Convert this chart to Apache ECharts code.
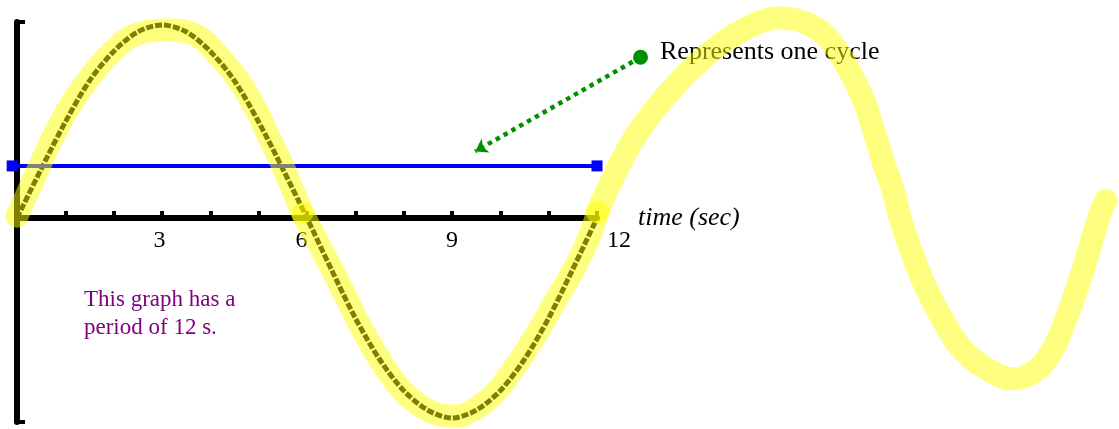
<!DOCTYPE html>
<html>
<head>
<meta charset="utf-8">
<script src="https://cdn.jsdelivr.net/npm/echarts@6/dist/echarts.min.js"></script>
<style>
  html, body { margin: 0; padding: 0; background: #fff; }
  #chart { width: 1119px; height: 429px; }
</style>
</head>
<body>
<div id="chart"></div>
<script>
// labelled ticks on the time axis (a tick every second)
const timeLabels = [3, 6, 9, 12]

const curveTime = [0, 0.5, 1, 1.5, 2, 2.5, 3, 3.5, 4, 4.5, 5, 5.5, 6, 6.5, 7, 7.5, 8, 8.5, 9, 9.5, 10, 10.5, 11, 11.5, 12]
const curveValue = [0, 0.25, 0.49, 0.7, 0.85, 0.95, 0.985, 0.95, 0.85, 0.7, 0.49, 0.25, 0, -0.26, -0.51, -0.72, -0.88, -0.98, -1.02, -0.98, -0.88, -0.72, -0.51, -0.26, 0]

// hand drawn highlighter, three strokes
const markerTime1 = [0, 0.33, 0.68, 1.04, 1.45, 1.93, 2.4, 3.11, 3.73, 4.2, 4.62, 4.97, 5.24, 5.51, 5.71, 5.9]
const markerValue1 = [0.01, 0.19, 0.38, 0.55, 0.7, 0.84, 0.93, 0.96, 0.93, 0.82, 0.69, 0.54, 0.4, 0.26, 0.14, 0.03]
const markerTime2 = [5.92, 6.3, 6.7, 7.1, 7.5, 7.9, 8.3, 8.7, 9.1, 9.5, 9.9, 10.3, 10.7, 11.1, 11.5, 11.8, 12.02]
const markerValue2 = [0.02, -0.16, -0.35, -0.55, -0.72, -0.86, -0.95, -1, -1.01, -0.97, -0.89, -0.76, -0.61, -0.44, -0.27, -0.12, 0.03]
const markerTime3 = [12.01, 12.34, 12.75, 13.25, 13.79, 14.41, 15.03, 15.73, 16.27, 16.77, 17.18, 17.52, 17.72, 17.93, 18.14, 18.28, 18.49, 18.76, 19.11, 19.52, 20, 20.6, 21.12, 21.45, 21.74, 22.01, 22.22, 22.42, 22.53]
const markerValue3 = [0.03, 0.21, 0.4, 0.57, 0.72, 0.86, 0.96, 1.02, 1, 0.92, 0.77, 0.6, 0.45, 0.28, 0.13, -0.01, -0.16, -0.33, -0.5, -0.66, -0.76, -0.82, -0.77, -0.66, -0.49, -0.3, -0.13, 0.03, 0.09]

// blue bar marking one cycle
const cycleTime = [-0.1, 12]
const cycleValue = [0.266, 0.266]

// note arrow: dot, then arrow tip
const noteTime = [12.9, 9.48]
const noteValue = [0.82, 0.34]
const noteText = 'Represents one cycle'
const periodText = 'This graph has a\nperiod of 12 s.'

const serif = '"Liberation Serif", "Times New Roman", serif'
const pairs = (xs, ys) => xs.map((x, i) => [x, ys[i]])

const highlight = (xs, ys) => ({
  type: 'line',
  xAxisIndex: 1,
  yAxisIndex: 1,
  data: pairs(xs, ys),
  smooth: 0.35,
  symbol: 'none',
  silent: true,
  clip: false,
  z: 10,
  lineStyle: { color: '#ffff00', opacity: 0.5, width: 23, cap: 'round', join: 'round' }
})

const labelText = { color: '#000', fontSize: 24, fontFamily: serif }

const chart = echarts.init(document.getElementById('chart'))
chart.setOption({
  animation: false,
  title: {
    text: periodText,
    left: 84,
    top: 286,
    padding: 0,
    textStyle: { color: '#800080', fontSize: 23, fontWeight: 'normal', fontFamily: serif, lineHeight: 28 }
  },
  // grid 0 carries the time axis (its bottom edge is the zero line),
  // grid 1 is the full plot: vertical axis and every series
  grid: [
    { left: 17, top: 22, width: 580, height: 196.08 },
    { left: 17, top: 22, width: 1102, height: 400 }
  ],
  xAxis: [
    {
      gridIndex: 0,
      type: 'value',
      position: 'bottom',
      min: 0,
      max: 12,
      interval: 1,
      name: 'time (sec)',
      nameLocation: 'end',
      nameGap: 41,
      nameTextStyle: { fontStyle: 'italic', fontSize: 26, fontFamily: serif, color: '#000', padding: [0, 0, 10, 0] },
      axisLine: { onZero: false, lineStyle: { color: '#000', width: 6 } },
      axisTick: { inside: true, length: 7, lineStyle: { color: '#000', width: 4 } },
      axisLabel: {
        show: true,
        margin: 11,
        ...labelText,
        formatter: v => {
          const n = Math.round(Number(v))
          return timeLabels.includes(n) ? '{t' + n + '|' + n + '}' : ''
        },
        rich: {
          t3: { ...labelText, padding: [0, 5, 0, 0] },
          t6: { ...labelText, padding: [0, 11, 0, 0] },
          t9: { ...labelText },
          t12: { ...labelText, padding: [0, 0, 0, 44] }
        }
      },
      splitLine: { show: false }
    },
    { gridIndex: 1, type: 'value', min: 0, max: 22.8, show: false }
  ],
  yAxis: [
    { gridIndex: 0, type: 'value', min: 0, max: 1, show: false },
    {
      gridIndex: 1,
      type: 'value',
      min: -1.04,
      max: 1,
      interval: 2.04,
      axisLine: { show: true, onZero: false, lineStyle: { color: '#000', width: 6 } },
      axisTick: { show: true, inside: true, length: 8, lineStyle: { color: '#000', width: 4 } },
      axisLabel: { show: false },
      splitLine: { show: false }
    }
  ],
  series: [
    {
      type: 'line',
      xAxisIndex: 1,
      yAxisIndex: 1,
      data: pairs(curveTime, curveValue),
      smooth: 0.3,
      symbol: 'none',
      silent: true,
      z: 2,
      lineStyle: { color: '#000', width: 5, type: [7, 2] }
    },
    {
      type: 'line',
      xAxisIndex: 1,
      yAxisIndex: 1,
      data: pairs(cycleTime, cycleValue),
      symbol: 'rect',
      symbolSize: 11,
      silent: true,
      clip: false,
      z: 3,
      itemStyle: { color: '#0000ff' },
      lineStyle: { color: '#0000ff', width: 4 }
    },
    {
      type: 'scatter',
      xAxisIndex: 1,
      yAxisIndex: 1,
      data: [[noteTime[0], noteValue[0]]],
      symbolSize: 15,
      silent: true,
      z: 3,
      itemStyle: { color: '#009100', opacity: 1 },
      label: {
        show: true,
        formatter: noteText,
        position: 'right',
        distance: 12,
        offset: [0, -5],
        color: '#000',
        fontSize: 26,
        fontFamily: serif
      },
      markLine: {
        silent: true,
        symbol: ['none', 'arrow'],
        symbolSize: 12,
        label: { show: false },
        lineStyle: { color: '#009100', width: 4.5, type: [4.5, 4.5] },
        data: [[{ coord: [noteTime[0], noteValue[0]] }, { coord: [noteTime[1], noteValue[1]] }]]
      }
    },
    highlight(markerTime1, markerValue1),
    highlight(markerTime2, markerValue2),
    highlight(markerTime3, markerValue3)
  ]
})
</script>
</body>
</html>
